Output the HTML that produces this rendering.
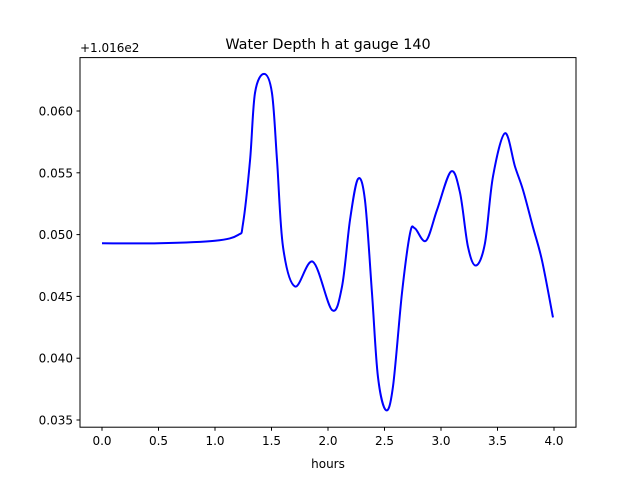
<!DOCTYPE html>
<html><head><meta charset="utf-8"><style>
body{margin:0;background:#fff}
text{font-family:"DejaVu Sans","Liberation Sans",sans-serif;fill:#000}
</style></head><body>
<svg id="chart" width="640" height="480" xmlns="http://www.w3.org/2000/svg">
<rect width="640" height="480" fill="#fff"/>
<text x="328" y="49" font-size="14.4" text-anchor="middle">Water Depth h at gauge 140</text>
<text x="80" y="52" font-size="12">+1.016e2</text>
<text x="328" y="468" font-size="12" text-anchor="middle">hours</text>
<g id="axes"></g>
<path id="line" fill="none" stroke="#0000ff" stroke-width="2"/>
<rect x="80" y="57.6" width="496" height="369.6" fill="none" stroke="#000" stroke-width="1"/>
</svg>
<script>
const hours=[0,0.5,1.0,1.204,1.248,1.31,1.354,1.434,1.504,1.549,1.602,1.708,1.867,2.035,2.124,2.195,2.265,2.327,2.389,2.442,2.513,2.575,2.655,2.726,2.77,2.867,2.965,3.088,3.168,3.239,3.31,3.389,3.46,3.566,3.655,3.726,3.814,3.894,3.991];
const depth=[0.0493,0.0493,0.0495,0.04997,0.0509,0.056,0.06146,0.063,0.06146,0.056,0.049,0.0458,0.0478,0.0439,0.0458,0.0512,0.0545,0.0528,0.0453,0.0385,0.0358,0.0377,0.0453,0.0501,0.0505,0.0495,0.052,0.0551,0.0534,0.0490,0.0475,0.0493,0.0547,0.0582,0.0555,0.0536,0.0506,0.0479,0.0433];
const xTicks=[0,0.5,1.0,1.5,2.0,2.5,3.0,3.5,4.0];
const yTicks=[0.035,0.040,0.045,0.050,0.055,0.060];
const X=h=>102+h*113;
const Y=v=>111-(v-0.060)/0.005*61.8;
const ns="http://www.w3.org/2000/svg";
const ax=document.getElementById('axes');
function mk(t,a){const e=document.createElementNS(ns,t);for(const k in a)e.setAttribute(k,a[k]);return e;}
xTicks.forEach(t=>{
 const l=mk('line',{x1:X(t),x2:X(t),y1:427.2,y2:430.7,stroke:'#000'});
 
 
 ax.appendChild(l);
 const s=mk('text',{x:X(t),y:445,'font-size':12,'text-anchor':'middle'});
 
 
 s.textContent=t.toFixed(1);ax.appendChild(s);
});
yTicks.forEach(t=>{
 const l=mk('line',{x1:76.5,x2:80,y1:Y(t),y2:Y(t),stroke:'#000'});
 
 
 ax.appendChild(l);
 const s=mk('text',{x:73,y:Y(t)+4.5,'font-size':12,'text-anchor':'end'});
 
 
 s.textContent=t.toFixed(3);ax.appendChild(s);
});
const P=hours.map((h,i)=>[X(h),Y(depth[i])]);
let d='M'+P[0][0]+','+P[0][1];
for(let i=0;i<P.length-1;i++){
 const p0=P[Math.max(0,i-1)],p1=P[i],p2=P[i+1],p3=P[Math.min(P.length-1,i+2)];
 const c1=[p1[0]+(p2[0]-p0[0])/6,p1[1]+(p2[1]-p0[1])/6];
 const c2=[p2[0]-(p3[0]-p1[0])/6,p2[1]-(p3[1]-p1[1])/6];
 d+=` C${c1[0]},${c1[1]} ${c2[0]},${c2[1]} ${p2[0]},${p2[1]}`;
}
document.getElementById('line').setAttribute('d',d);
</script>
</body></html>
